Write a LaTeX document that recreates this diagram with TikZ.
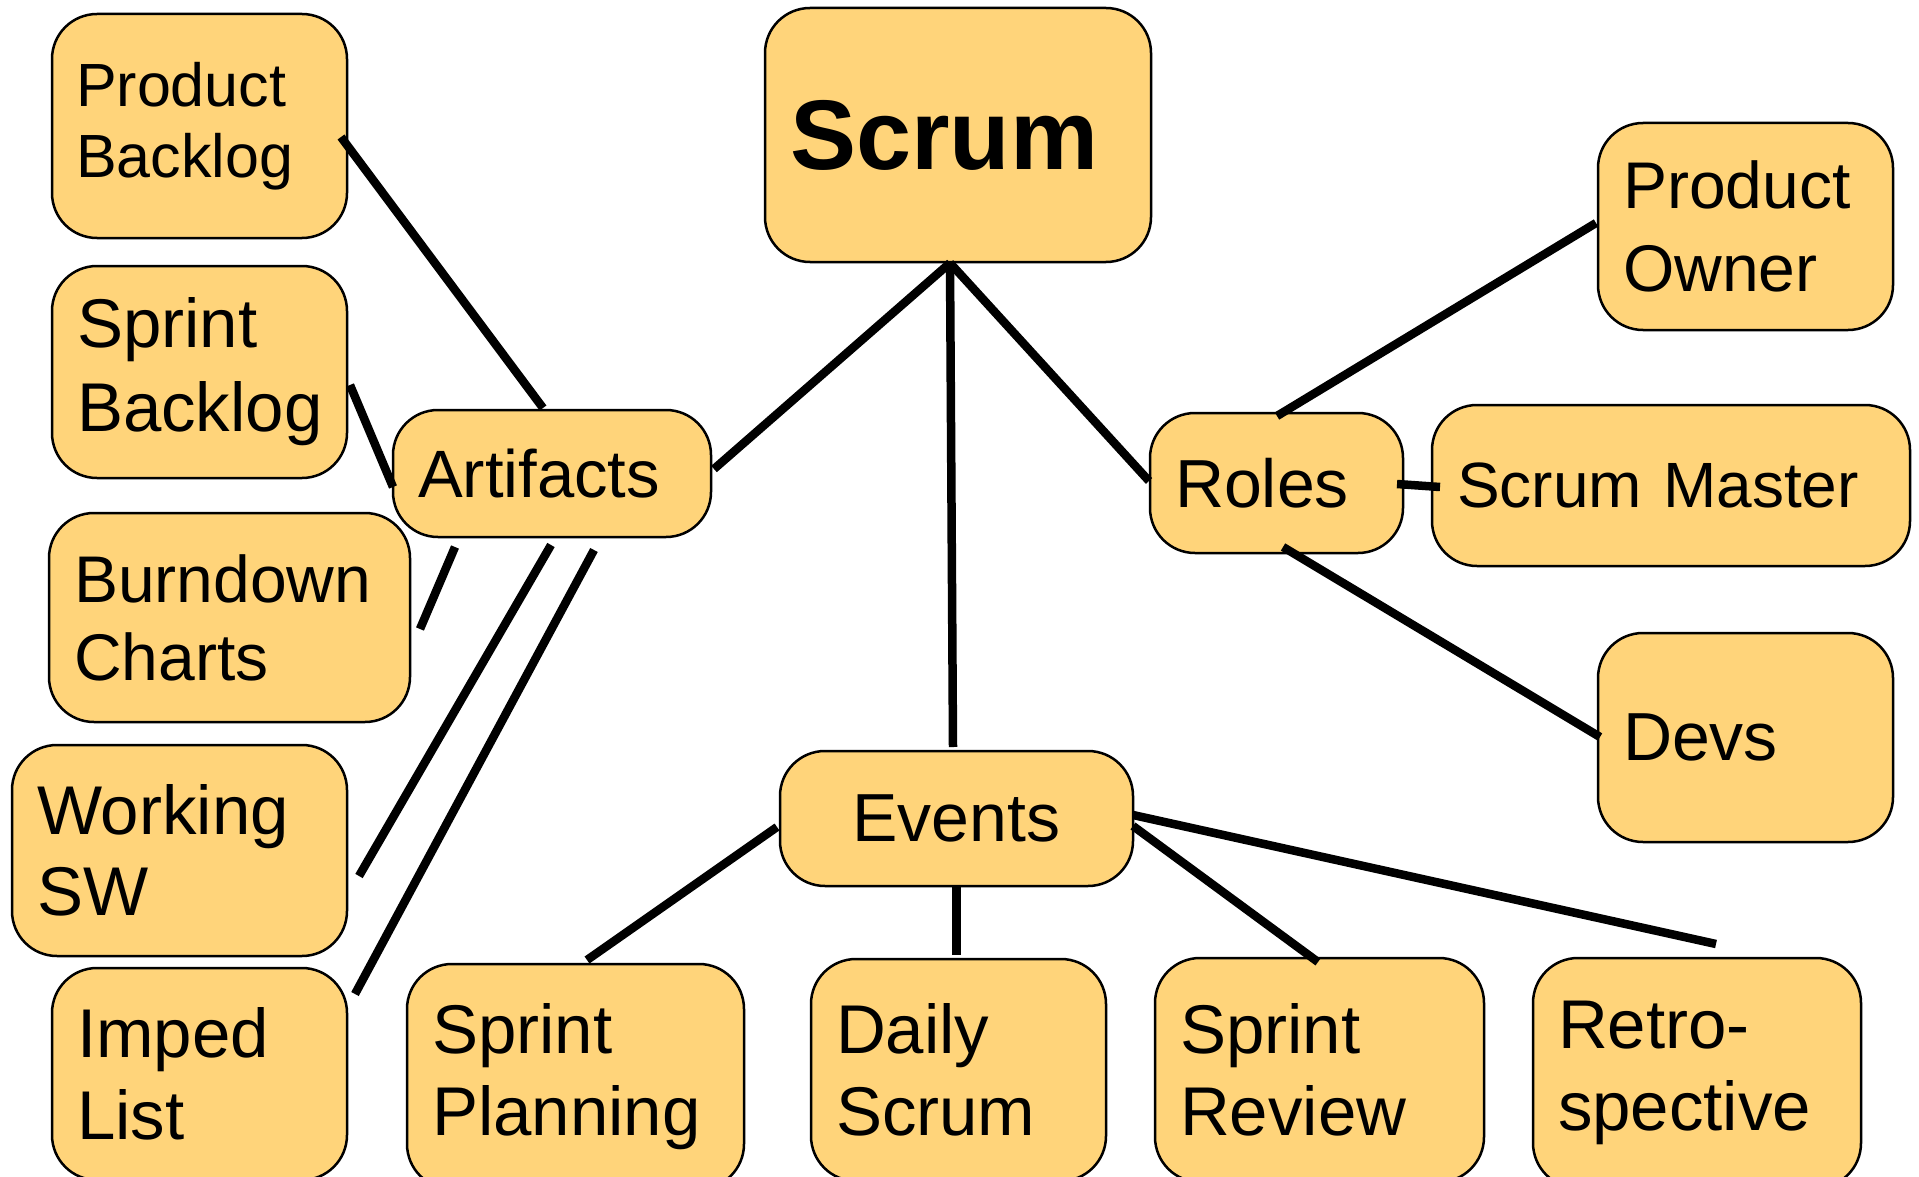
\documentclass[tikz,border=0pt]{standalone}
\usepackage{fontspec}
\setmainfont{Liberation Sans}
\usetikzlibrary{calc}
\definecolor{boxfill}{RGB}{255,212,122}
\begin{document}
\begin{tikzpicture}[x=1pt,y=-1pt,
  box/.style={draw=black, line width=2.5pt, fill=boxfill, rounded corners=45pt,
    anchor=north west, inner xsep=25pt, inner ysep=0pt, outer sep=0pt, align=left},
  link/.style={line width=8.5pt, draw=black}]
\useasboundingbox (0,0) rectangle (1919,1177);
\clip (0,0) rectangle (1919,1177);

% Artifacts side
\node[box, minimum width=295pt, minimum height=224pt, text width=247pt, inner xsep=24pt, font=\fontsize{61}{71}\selectfont] (pb) at (52,14) {Product\\Backlog};
\node[box, minimum width=295pt, minimum height=212pt, text width=245pt, font=\fontsize{69}{84}\selectfont] (sb) at (52,266) {Sprint\\Backlog};
\node[box, minimum width=361pt, minimum height=209pt, text width=311pt, font=\fontsize{66}{78}\selectfont] (bc) at (49,513) {Burndown\\Charts};
\node[box, minimum width=335pt, minimum height=211pt, text width=285pt, font=\fontsize{69}{81}\selectfont] (ws) at (12,745) {Working\\SW};
\node[box, minimum width=295pt, minimum height=212pt, text width=245pt, font=\fontsize{69}{82}\selectfont] (il) at (52,968) {Imped\\List};
\node[box, minimum width=318pt, minimum height=127pt, text width=268pt, font=\fontsize{67}{80}\selectfont] (art) at (393,410) {Artifacts};

% Centre
\node[box, minimum width=386pt, minimum height=254pt, text width=336pt, font=\fontsize{99}{110}\selectfont\bfseries] (scrum) at (765,8) {Scrum};

% Roles side
\node[box, minimum width=253pt, minimum height=140pt, text width=203pt, font=\fontsize{68}{80}\selectfont] (roles) at (1150,413) {Roles};
\node[box, minimum width=295pt, minimum height=207pt, text width=245pt, font=\fontsize{66}{83}\selectfont] (po) at (1598,123) {Product\\Owner};
\node[box, minimum width=478pt, minimum height=161pt, text width=428pt, font=\fontsize{64}{76}\selectfont] (sm) at (1432,405) {Scrum Master};
\node[box, minimum width=295pt, minimum height=209pt, text width=245pt, font=\fontsize{68}{80}\selectfont] (devs) at (1598,633) {Devs};

% Events side
\node[box, minimum width=353pt, minimum height=135pt, text width=303pt, align=center, font=\fontsize{68}{80}\selectfont] (ev) at (780,751) {Events};
\node[box, minimum width=337pt, minimum height=225pt, text width=287pt, font=\fontsize{69}{82}\selectfont] (sp) at (407,964) {Sprint\\Planning};
\node[box, minimum width=295pt, minimum height=222pt, text width=245pt, font=\fontsize{69}{82}\selectfont] (ds) at (811,959) {Daily\\Scrum};
\node[box, minimum width=329pt, minimum height=224pt, text width=279pt, font=\fontsize{69}{82}\selectfont] (sr) at (1155,958) {Sprint\\Review};
\node[box, minimum width=328pt, minimum height=230pt, text width=278pt, font=\fontsize{69}{82}\selectfont] (re) at (1533,958) {Retro-\\spective};

% Connectors
\draw[link] ($(pb.east)+(-6,11)$) -- ($(art.north)+(-9,-2)$);
\draw[link] ($(sb.east)+(3,13)$) -- ($(art.west)+(0,13.5)$);
\draw[link] ($(art.south)+(-97,10)$) -- ($(bc.east)+(10,11.5)$);
\draw[link] ($(art.south)+(-1,8)$) -- ($(ws.east)+(12,25.5)$);
\draw[link] ($(art.south)+(42,13)$) -- ($(il.north east)+(8,26)$);

\draw[link] ($(scrum.south)+(-8,1)$) -- ($(art.east)+(3,-4.5)$);
\draw[link] ($(scrum.south)+(-8,1)$) -- ($(ev.north)+(-3.5,-4)$);
\draw[link] ($(scrum.south)+(-8,1)$) -- ($(roles.west)+(-1,-2)$);

\draw[link] ($(roles.north)+(0.5,3)$) -- ($(po.west)+(-2,-3.5)$);
\draw[link] ($(roles.east)+(-6,1)$) -- ($(sm.west)+(8,1.5)$);
\draw[link] ($(roles.south)+(6.5,-6)$) -- ($(devs.west)+(2,-0.5)$);

\draw[link] ($(ev.west)+(-3,8.5)$) -- ($(sp.north)+(11.5,-4)$);
\draw[link] ($(ev.south)+(0,0)$) -- ($(ds.north)+(-2,-4)$);
\draw[link] ($(ev.east)+(0,7.5)$) -- ($(sr.north)+(-1.5,4)$);
\draw[link] ($(ev.east)+(0,-3.5)$) -- ($(re.north)+(19,-14)$);
\end{tikzpicture}
\end{document}
